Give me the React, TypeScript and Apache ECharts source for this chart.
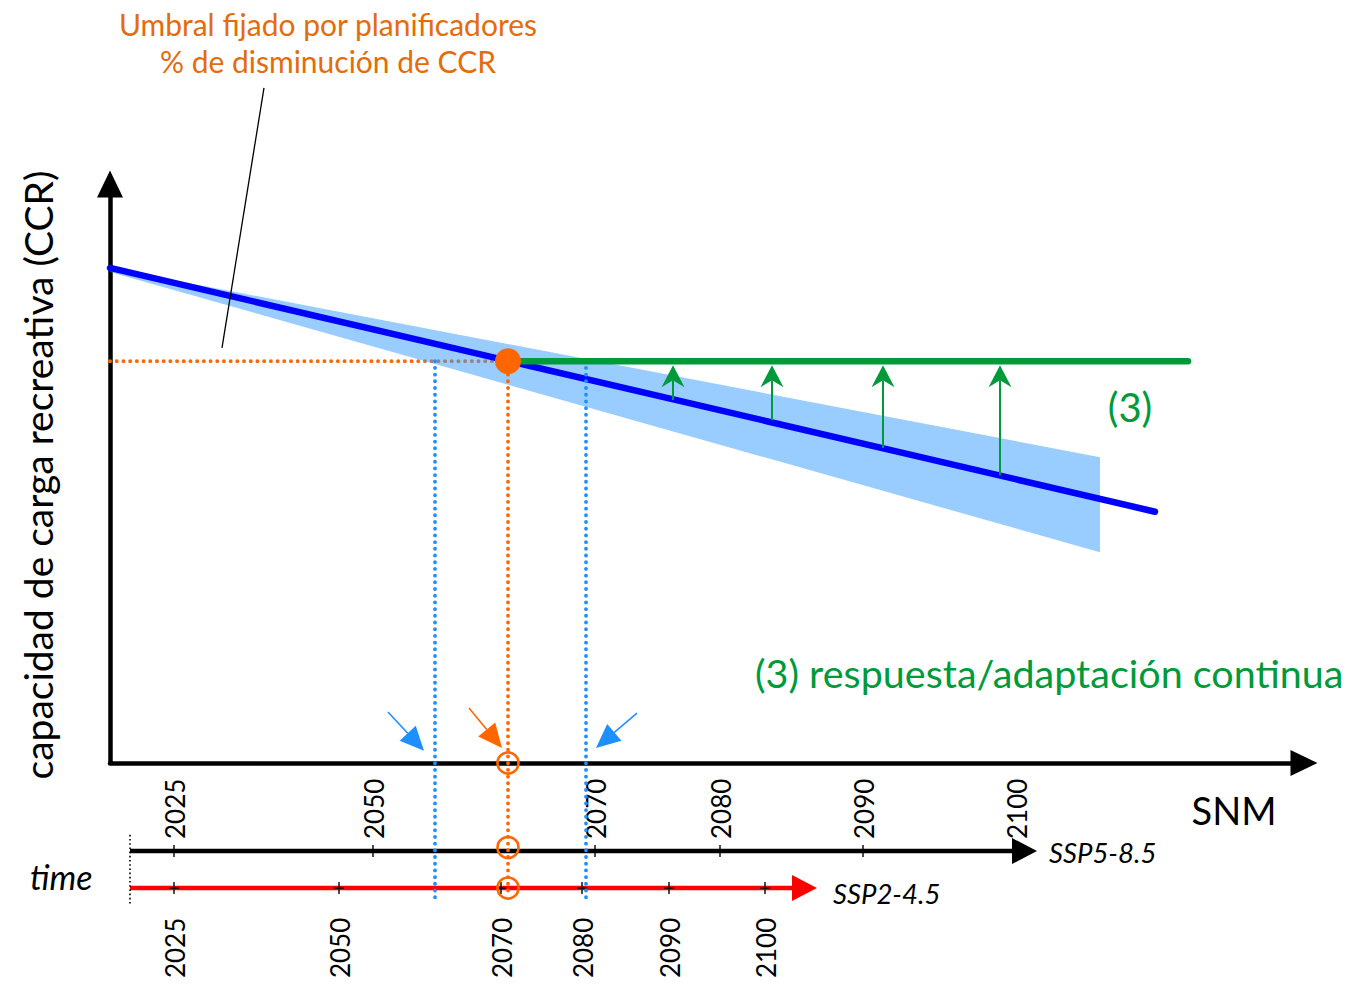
import React, { useEffect, useRef } from "react";
import * as echarts from "echarts";

// ---- data (SNM on x, CCR on y; arbitrary conceptual units) ----
const SNM_MAX = 119.4;
const CCR_MAX = 100;

const blueLine = [[0, 85.5], [104.5, 43.4]];
const bandUpper = [[0, 85.5], [99, 52.8]];
const bandLower = [[0, 84.8], [99, 36.4]];

const threshold = 69.4;
const crossingSnm = 39.8;
const greenEndSnm = 107.8;
const earlySnm = 32.5;
const lateSnm = 47.6;

const adaptArrowSnm = [56.3, 66.2, 77.3, 89.0];
const adaptArrowBase = [62.7, 59.2, 54.4, 49.7];
const adaptArrowTip = 68.7;

const years = [2025, 2050, 2070, 2080, 2090, 2100];
const ssp585Snm = [6.4, 26.3, 48.5, 61.0, 75.3, 90.6];
const ssp245Snm = [6.4, 22.9, 39.1, 47.2, 55.9, 65.5];
const timeStartSnm = 2.0;
const ssp585EndSnm = 92.7;
const ssp245EndSnm = 70.7;
const ssp585Row = -15.2;
const ssp245Row = -21.6;
const dottedBottom = -23.3;
const orangeBottom = -22.4;

const pointerFrom = [[27.8, 8.8], [35.9, 9.5], [52.7, 8.6]];
const pointerTo = [[31.4, 2.1], [39.2, 2.6], [48.6, 2.6]];
const pointerColor = ["#1E8FFF", "#FF6600", "#1E8FFF"];

const leader = [[15.4, 116.6], [11.2, 71.7]];

const ORANGE = "#FF6600";
const TITLE_ORANGE = "#E46C0A";
const GREEN = "#009A3A";
const DOT_BLUE = "#1E8FFF";
const FONT = "Lato";

export default function App() {
  const ref = useRef<HTMLDivElement>(null);
  useEffect(() => {
    if (!ref.current) return;
    const chart = echarts.init(ref.current, undefined, { renderer: "svg" });

    const dotted = (color: string, width = 3.8) => ({
      color,
      width,
      type: [0.1, 6.6],
      cap: "round",
    });

    const option: any = {
      animation: false,
      grid: { left: 110, right: 57, top: 184, bottom: 231 },
      xAxis: {
        type: "value",
        min: 0,
        max: SNM_MAX,
        axisLine: {
          show: true,
          onZero: false,
          symbol: ["none", "triangle"],
          symbolSize: [26, 27],
          lineStyle: { color: "#000", width: 4.5 },
        },
        axisTick: { show: false },
        axisLabel: { show: false },
        splitLine: { show: false },
      },
      yAxis: {
        type: "value",
        min: 0,
        max: CCR_MAX,
        axisLine: {
          show: true,
          onZero: false,
          symbol: ["none", "triangle"],
          symbolSize: [26, 27],
          lineStyle: { color: "#000", width: 4.5 },
        },
        axisTick: { show: false },
        axisLabel: { show: false },
        splitLine: { show: false },
      },
      series: [
        // threshold dotted horizontal
        {
          type: "line",
          silent: true,
          symbol: "none",
          data: [[0, threshold], [lateSnm, threshold]],
          lineStyle: dotted(ORANGE),
          z: 2,
        },
        // uncertainty band
        {
          type: "custom",
          silent: true,
          data: [[0, 0]],
          z: 3,
          renderItem: (params: any, api: any) => {
            const pts = [
              ...bandUpper.map((p) => api.coord(p)),
              ...bandLower.slice().reverse().map((p) => api.coord(p)),
            ];
            return {
              type: "polygon",
              shape: { points: pts },
              style: { fill: "rgba(51,153,255,0.5)" },
            };
          },
        },
        // blue projection line
        {
          type: "line",
          silent: true,
          symbol: "none",
          data: blueLine,
          lineStyle: { color: "#0000FF", width: 6.5, cap: "round" },
          z: 4,
        },
        // blue dotted verticals
        {
          type: "line",
          silent: true,
          symbol: "none",
          clip: false,
          data: [[earlySnm, threshold], [earlySnm, dottedBottom]],
          lineStyle: dotted(DOT_BLUE),
          z: 5,
        },
        {
          type: "line",
          silent: true,
          symbol: "none",
          clip: false,
          data: [[lateSnm, threshold], [lateSnm, dottedBottom]],
          lineStyle: dotted(DOT_BLUE),
          z: 5,
        },
        // orange dotted vertical
        {
          type: "line",
          silent: true,
          symbol: "none",
          clip: false,
          data: [[crossingSnm, threshold], [crossingSnm, orangeBottom]],
          lineStyle: dotted(ORANGE),
          z: 5,
        },
        // green continuous response line
        {
          type: "line",
          silent: true,
          symbol: "none",
          data: [[crossingSnm, threshold], [greenEndSnm, threshold]],
          lineStyle: { color: GREEN, width: 6.5, cap: "round" },
          z: 6,
        },
        // green adaptation arrows
        {
          type: "custom",
          silent: true,
          z: 6,
          data: adaptArrowSnm.map((x, i) => [x, adaptArrowBase[i], adaptArrowTip]),
          renderItem: (params: any, api: any) => {
            const b = api.coord([api.value(0), api.value(1)]);
            const t = api.coord([api.value(0), api.value(2)]);
            const hw = 11.5, hl = 22, notch = 15;
            return {
              type: "group",
              children: [
                {
                  type: "line",
                  shape: { x1: b[0], y1: b[1], x2: t[0], y2: t[1] + notch },
                  style: { stroke: GREEN, lineWidth: 2 },
                },
                {
                  type: "polygon",
                  shape: {
                    points: [
                      [t[0], t[1]],
                      [t[0] + hw, t[1] + hl],
                      [t[0], t[1] + notch],
                      [t[0] - hw, t[1] + hl],
                    ],
                  },
                  style: { fill: GREEN },
                },
              ],
            };
          },
        },
        // time axes (lines + arrowheads)
        {
          type: "custom",
          silent: true,
          z: 4,
          data: [
            [timeStartSnm, ssp585EndSnm, ssp585Row, 0],
            [timeStartSnm, ssp245EndSnm, ssp245Row, 1],
          ],
          renderItem: (params: any, api: any) => {
            const s = api.coord([api.value(0), api.value(2)]);
            const e = api.coord([api.value(1), api.value(2)]);
            const color = api.value(3) === 0 ? "#000000" : "#FF0000";
            const len = 25, hh = 13;
            return {
              type: "group",
              children: [
                {
                  type: "line",
                  shape: { x1: s[0], y1: s[1], x2: e[0] - len + 2, y2: e[1] },
                  style: { stroke: color, lineWidth: 4.5 },
                },
                {
                  type: "polygon",
                  shape: {
                    points: [
                      [e[0], e[1]],
                      [e[0] - len, e[1] - hh],
                      [e[0] - len, e[1] + hh],
                    ],
                  },
                  style: { fill: color },
                },
              ],
            };
          },
        },
        // time axis start marker (dotted)
        {
          type: "line",
          silent: true,
          symbol: "none",
          clip: false,
          data: [[timeStartSnm, ssp585Row + 2.8], [timeStartSnm, ssp245Row - 2.9]],
          lineStyle: { color: "#000", width: 1.6, type: [1.6, 2.6] },
          z: 4,
        },
        // time ticks + labels
        {
          type: "custom",
          silent: true,
          z: 5,
          data: [
            ...years.map((y, i) => [ssp585Snm[i], ssp585Row, y, 0]),
            ...years.map((y, i) => [ssp245Snm[i], ssp245Row, y, 1]),
          ],
          renderItem: (params: any, api: any) => {
            const p = api.coord([api.value(0), api.value(1)]);
            const upper = api.value(3) === 0;
            return {
              type: "group",
              children: [
                {
                  type: "line",
                  shape: { x1: p[0], y1: p[1] - 6, x2: p[0], y2: p[1] + 6 },
                  style: { stroke: "#000", lineWidth: 1.4 },
                },
                {
                  type: "line",
                  shape: { x1: p[0] - 5, y1: p[1], x2: p[0] + 5, y2: p[1] },
                  style: { stroke: "#000", lineWidth: 1.4 },
                },
                {
                  type: "text",
                  x: p[0] + 1,
                  y: upper ? p[1] - 12 : p[1] + 90,
                  rotation: Math.PI / 2,
                  style: {
                    text: String(api.value(2)),
                    fontFamily: FONT,
                    fontSize: 26,
                    fill: "#000",
                    align: "left",
                    verticalAlign: "middle",
                  },
                },
              ],
            };
          },
        },
        // pointer arrows toward the axis
        {
          type: "custom",
          silent: true,
          z: 6,
          data: pointerFrom.map((f, i) => [f[0], f[1], pointerTo[i][0], pointerTo[i][1], i]),
          renderItem: (params: any, api: any) => {
            const a = api.coord([api.value(0), api.value(1)]);
            const b = api.coord([api.value(2), api.value(3)]);
            const color = pointerColor[api.value(4)];
            const dx = b[0] - a[0], dy = b[1] - a[1];
            const L = Math.sqrt(dx * dx + dy * dy);
            const ux = dx / L, uy = dy / L;
            const hl = 24, hw = 11;
            const bx = b[0] - ux * hl, by = b[1] - uy * hl;
            return {
              type: "group",
              children: [
                {
                  type: "line",
                  shape: { x1: a[0], y1: a[1], x2: bx, y2: by },
                  style: { stroke: color, lineWidth: 1.6 },
                },
                {
                  type: "polygon",
                  shape: {
                    points: [
                      [b[0], b[1]],
                      [bx - uy * hw, by + ux * hw],
                      [bx + uy * hw, by - ux * hw],
                    ],
                  },
                  style: { fill: color },
                },
              ],
            };
          },
        },
        // leader line to the threshold label
        {
          type: "line",
          silent: true,
          symbol: "none",
          clip: false,
          data: leader,
          lineStyle: { color: "#000", width: 1.3 },
          z: 6,
        },
        // threshold crossing point
        {
          type: "scatter",
          silent: true,
          symbol: "circle",
          symbolSize: 26,
          data: [[crossingSnm, threshold]],
          itemStyle: { color: ORANGE, opacity: 1 },
          z: 7,
        },
        // hollow markers on the axes
        {
          type: "scatter",
          silent: true,
          clip: false,
          symbol: "circle",
          symbolSize: 21,
          data: [[crossingSnm, 0], [crossingSnm, ssp585Row + 0.6], [crossingSnm, ssp245Row]],
          itemStyle: { color: "rgba(255,255,255,0)", borderColor: ORANGE, borderWidth: 2.6, opacity: 1 },
          z: 7,
        },
      ],
      graphic: [
        {
          type: "text",
          x: 328,
          y: 24,
          style: {
            text: "Umbral fijado por planificadores",
            fontFamily: FONT,
            fontSize: 30,
            fill: TITLE_ORANGE,
            align: "center",
            verticalAlign: "middle",
          },
        },
        {
          type: "text",
          x: 328,
          y: 61,
          style: {
            text: "% de disminución de CCR",
            fontFamily: FONT,
            fontSize: 30,
            fill: TITLE_ORANGE,
            align: "center",
            verticalAlign: "middle",
          },
        },
        {
          type: "text",
          x: 38,
          y: 475,
          rotation: Math.PI / 2,
          style: {
            text: "capacidad de carga recreativa (CCR)",
            fontFamily: FONT,
            fontSize: 39,
            fill: "#000",
            align: "center",
            verticalAlign: "middle",
          },
        },
        {
          type: "text",
          x: 1234,
          y: 810,
          style: {
            text: "SNM",
            fontFamily: FONT,
            fontSize: 38,
            fill: "#000",
            align: "center",
            verticalAlign: "middle",
          },
        },
        {
          type: "text",
          x: 30,
          y: 876,
          style: {
            text: "time",
            fontFamily: FONT,
            fontStyle: "italic",
            fontSize: 34,
            fill: "#000",
            align: "left",
            verticalAlign: "middle",
          },
        },
        {
          type: "text",
          x: 1049,
          y: 852,
          style: {
            text: "SSP5-8.5",
            fontFamily: FONT,
            fontStyle: "italic",
            fontSize: 27.5,
            fill: "#000",
            align: "left",
            verticalAlign: "middle",
          },
        },
        {
          type: "text",
          x: 833,
          y: 893,
          style: {
            text: "SSP2-4.5",
            fontFamily: FONT,
            fontStyle: "italic",
            fontSize: 27.5,
            fill: "#000",
            align: "left",
            verticalAlign: "middle",
          },
        },
        {
          type: "text",
          x: 1130,
          y: 407,
          style: {
            text: "(3)",
            fontFamily: FONT,
            fontSize: 40,
            fill: GREEN,
            align: "center",
            verticalAlign: "middle",
          },
        },
        {
          type: "text",
          x: 755,
          y: 672,
          style: {
            text: "(3) respuesta/adaptación continua",
            fontFamily: FONT,
            fontSize: 39.5,
            fill: GREEN,
            align: "left",
            verticalAlign: "middle",
          },
        },
      ],
    };

    chart.setOption(option);
    return () => chart.dispose();
  }, []);

  return (
    <div
      ref={ref}
      style={{ position: "absolute", left: 0, top: 0, width: 1361, height: 994, background: "#fff" }}
    />
  );
}
